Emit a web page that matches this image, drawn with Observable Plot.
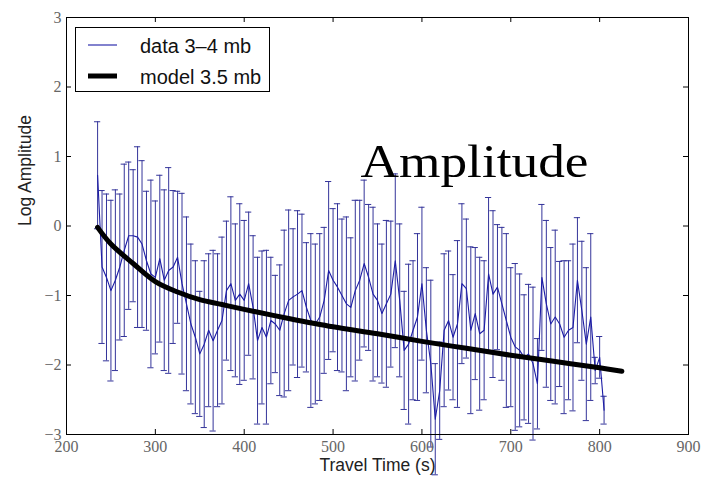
<!DOCTYPE html>
<html>
<head>
<meta charset="utf-8">
<script src="https://cdn.jsdelivr.net/npm/d3@7"></script>
<script src="https://cdn.jsdelivr.net/npm/@observablehq/plot@0.6"></script>
<style>
  html, body { margin: 0; padding: 0; background: #fff; }
  #wrap { position: relative; width: 702px; height: 477px; }
  #legend { position: absolute; left: 75px; top: 27px; width: 193px; height: 63px;
            border: 1px solid #000; background: #fff; }
</style>
</head>
<body>
<div id="wrap"></div>
<script>
// ---- data ----
const times = [235,240,245,250,255,260,265,270,275,280,285,290,295,300,305,310,315,320,325,330,
  335,340,345,350,355,360,365,370,375,380,385,390,395,400,405,410,415,420,425,430,
  435,440,445,450,455,460,465,470,475,480,485,490,495,500,505,510,515,520,525,530,
  535,540,545,550,555,560,565,570,575,580,585,590,595,600,605,610,615,620,625,630,
  635,640,645,650,655,660,665,670,675,680,685,690,695,700,705,710,715,720,725,730,
  735,740,745,750,755,760,765,770,775,780,785,790,795,800,805];
const logAmp = [0.73,-0.59,-0.74,-0.93,-0.78,-0.59,-0.35,-0.14,-0.14,-0.16,
  -0.26,-0.50,-0.69,-0.74,-0.47,-0.78,-0.64,-0.59,-0.45,-0.83,
  -1.12,-1.41,-1.60,-1.84,-1.70,-1.50,-1.65,-1.50,-1.36,-0.93,
  -0.83,-1.07,-0.98,-1.07,-0.83,-1.17,-1.65,-1.46,-1.60,-1.36,
  -1.41,-1.50,-1.26,-1.07,-1.02,-0.98,-0.93,-1.17,-1.36,-1.41,
  -1.31,-1.07,-0.64,-0.78,-0.88,-1.00,-1.12,-1.17,-0.93,-0.78,
  -0.54,-0.74,-0.98,-1.07,-1.26,-1.12,-0.98,-0.50,-1.07,-1.79,
  -1.70,-1.50,-1.31,-0.83,-1.50,-1.98,-2.78,-2.37,-1.50,-1.36,
  -1.60,-1.41,-0.83,-0.90,-1.50,-1.26,-1.55,-1.50,-0.69,-0.98,
  -0.88,-1.12,-1.36,-1.60,-1.74,-1.79,-1.89,-1.84,-1.98,-2.27,
  -0.74,-1.12,-1.41,-1.31,-1.41,-1.60,-1.50,-1.46,-0.78,-1.22,
  -1.70,-1.31,-2.08,-1.89,-2.65];
const spread = [0.77,1.10,1.20,1.30,1.30,1.05,1.24,1.06,0.95,1.30,
  1.20,1.00,1.35,1.10,1.20,1.30,1.48,1.10,0.95,1.30,
  1.25,1.15,1.10,0.90,1.20,1.10,1.30,1.10,1.20,1.00,
  1.25,1.10,1.30,1.15,1.03,1.03,1.20,1.10,1.25,0.91,
  0.70,0.94,1.20,1.30,0.98,1.20,1.10,0.93,1.25,1.15,
  1.20,1.05,1.28,1.03,1.20,1.10,1.25,1.00,1.30,1.15,
  1.20,1.05,1.25,1.10,1.00,1.20,1.05,1.25,1.10,0.85,
  1.15,1.00,1.20,1.10,0.90,1.20,0.80,0.70,1.10,1.00,
  0.90,1.20,1.15,1.00,1.20,0.95,1.10,1.00,1.10,1.20,
  0.90,1.10,1.25,1.00,1.20,1.10,0.90,1.00,1.10,0.65,
  1.05,1.20,1.10,1.25,0.90,1.10,1.00,1.20,0.90,1.00,
  1.10,1.20,0.19,0.30,0.20];
const modelTimes = [235,250,275,300,325,350,375,400,450,500,550,600,650,700,750,800,825];
const modelAmp = [-0.02,-0.26,-0.54,-0.80,-0.95,-1.06,-1.13,-1.20,-1.33,-1.45,-1.55,-1.66,-1.76,-1.86,-1.95,-2.04,-2.09];
const xTicks = [200,300,400,500,600,700,800,900];
const yTicks = [-3,-2,-1,0,1,2,3];
const seriesLabels = ["data 3\u20134 mb", "model 3.5 mb"];
const annotation = "Amplitude";
const xLabel = "Travel Time (s)";
const yLabel = "Log Amplitude";

// ---- tables ----
const obs = times.map((t, i) => ({t, v: logAmp[i], lo: logAmp[i] - spread[i], hi: logAmp[i] + spread[i]}));
const model = modelTimes.map((t, i) => ({t, v: modelAmp[i]}));

const W = 702, H = 477, mT = 17, mB = 43, mL = 66, mR = 14;
const innerH = H - mT - mB, innerW = W - mL - mR;
const dataBlue = "#1c1ca6", barBlue = "#34349a";
const fmt = d => d < 0 ? "\u2212" + Math.abs(d) : String(d);
const serif = "Liberation Serif";

const chart = Plot.plot({
  width: W, height: H,
  marginTop: mT, marginBottom: mB, marginLeft: mL, marginRight: mR,
  x: {domain: [200, 900], axis: null},
  y: {domain: [-3, 3], axis: null},
  style: {background: "#fff"},
  marks: [
    // error bars
    Plot.ruleX(obs, {x: "t", y1: "lo", y2: "hi", stroke: barBlue, strokeWidth: 1}),
    Plot.ruleY(obs, {y: "hi", x1: d => d.t - 3.5, x2: d => d.t + 3.5, stroke: barBlue, strokeWidth: 1}),
    Plot.ruleY(obs, {y: "lo", x1: d => d.t - 3.5, x2: d => d.t + 3.5, stroke: barBlue, strokeWidth: 1}),
    // data line
    Plot.line(obs, {x: "t", y: "v", stroke: dataBlue, strokeWidth: 1.1}),
    // model
    Plot.line(model, {x: "t", y: "v", stroke: "#000", strokeWidth: 5, curve: "catmull-rom"}),
    // inner ticks
    Plot.tickX(xTicks, {x: d => d, insetTop: innerH - 5, stroke: "#000"}),
    Plot.tickX(xTicks, {x: d => d, insetBottom: innerH - 5, stroke: "#000"}),
    Plot.tickY(yTicks, {y: d => d, insetRight: innerW - 5, stroke: "#000"}),
    Plot.tickY(yTicks, {y: d => d, insetLeft: innerW - 5, stroke: "#000"}),
    // tick labels (serif, grey)
    Plot.text(xTicks, {x: d => d, text: fmt, frameAnchor: "bottom", dy: 12, lineAnchor: "middle", fontFamily: serif, fontSize: 16, fill: "#666"}),
    Plot.text(yTicks, {y: d => d, text: fmt, frameAnchor: "left", dx: -5, textAnchor: "end", lineAnchor: "middle", fontFamily: serif, fontSize: 16, fill: "#666"}),
    // axis titles
    Plot.text([xLabel], {text: d => d, frameAnchor: "bottom", dy: 31, lineAnchor: "middle", fontFamily: "Liberation Sans", fontSize: 17.5, fill: "#222"}),
    Plot.text([yLabel], {text: d => d, frameAnchor: "left", dx: -41, rotate: -90, lineAnchor: "middle", fontFamily: "Liberation Sans", fontSize: 17.5, fill: "#222"}),
    // annotation
    Plot.text([annotation], {text: d => d, frameAnchor: "top-left", dx: 294, dy: 144, textAnchor: "start", lineAnchor: "middle", fontFamily: serif, fontSize: 47, fill: "#000"}),
    Plot.frame({stroke: "#000", strokeWidth: 1})
  ]
});

const wrap = document.getElementById("wrap");
wrap.appendChild(chart);
chart.querySelectorAll("text").forEach(t => {
  if (t.textContent.trim() === annotation) {
    t.setAttribute("textLength", "228");
    t.setAttribute("lengthAdjust", "spacingAndGlyphs");
  }
});

// legend overlay
const leg = document.createElement("div");
leg.id = "legend";
const ls = d3.create("svg").attr("width", 193).attr("height", 63);
const items = [
  {label: seriesLabels[0], stroke: dataBlue, w: 1.1, y: 17},
  {label: seriesLabels[1], stroke: "#000", w: 5, y: 48}
];
for (const it of items) {
  ls.append("line").attr("x1", 12).attr("x2", 41).attr("y1", it.y).attr("y2", it.y)
    .attr("stroke", it.stroke).attr("stroke-width", it.w);
  ls.append("text").attr("x", 64).attr("y", it.y + 7.5).attr("font-family", "Liberation Sans")
    .attr("font-size", 20).attr("fill", "#111").text(it.label);
}
leg.appendChild(ls.node());
wrap.appendChild(leg);
</script>
</body>
</html>
